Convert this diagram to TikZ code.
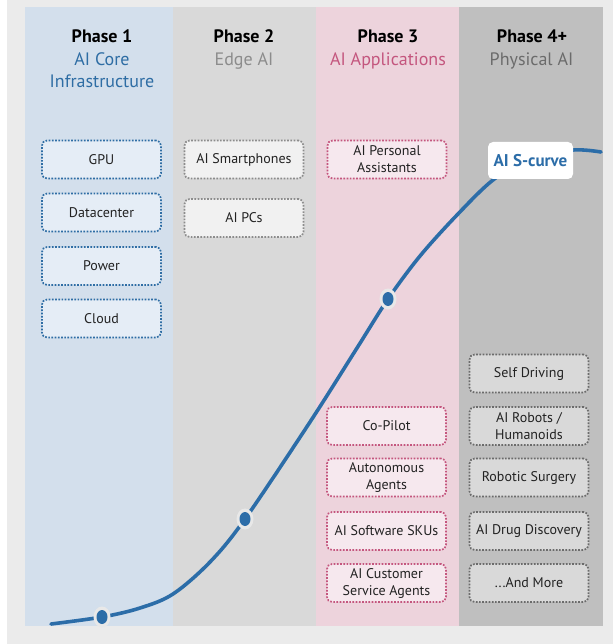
\documentclass[tikz,border=0pt]{standalone}
\usepackage{fontspec}
\setmainfont{PT Sans}
\definecolor{pagebg}{HTML}{EBEBEB}
\definecolor{curveblue}{HTML}{2C6DA8}
\definecolor{ringgray}{HTML}{E8E8E8}
\definecolor{colA}{HTML}{D3DFEC}
\definecolor{colB}{HTML}{D9D9D9}
\definecolor{colC}{HTML}{EDD3DC}
\definecolor{colD}{HTML}{BFBFBF}
\definecolor{fillA}{HTML}{E5EDF6}
\definecolor{fillB}{HTML}{F1F1F1}
\definecolor{fillC}{HTML}{F6E8EE}
\definecolor{fillD}{HTML}{D9D9D9}
\definecolor{lineA}{HTML}{2E6DA4}
\definecolor{lineB}{HTML}{8C8C8C}
\definecolor{lineC}{HTML}{C4567E}
\definecolor{lineD}{HTML}{6B6B6B}
\definecolor{boxtext}{HTML}{222222}
\begin{document}
\begin{tikzpicture}[x=1pt,y=-1pt,
  item/.style={draw, rounded corners=5pt, line width=1.7pt,
    dash pattern=on 1.7pt off 1.5pt, minimum width=119pt, minimum height=38pt,
    align=center, inner sep=0pt, text=boxtext,
    font=\fontsize{14}{17}\selectfont},
  itemA/.style={item, draw=lineA, fill=fillA},
  itemB/.style={item, draw=lineB, fill=fillB},
  itemC/.style={item, draw=lineC, fill=fillC},
  itemD/.style={item, draw=lineD, fill=fillD},
  phasetitle/.style={anchor=base, inner sep=0pt, text=black,
    font=\fontsize{18}{22}\selectfont\bfseries},
  phasesub/.style={anchor=base, inner sep=0pt, align=center,
    font=\fontsize{18}{22.5}\selectfont},
  curvelabel/.style={fill=white, rounded corners=5pt, minimum width=85pt,
    minimum height=37pt, inner sep=0pt, text=curveblue,
    font=\fontsize{17}{20}\selectfont\bfseries}
]
\useasboundingbox (0,0) rectangle (613,644);
\fill[white] (0,0) rectangle (613,644);
\fill[pagebg] (7,0) rectangle (613,644);

% phase columns
\fill[colA] (25,7) rectangle (173,626);
\fill[colB] (173,7) rectangle (316,626);
\fill[colC] (316,7) rectangle (459,626);
\fill[colD] (459,7) rectangle (603,626);

% column headers
\node[phasetitle] (t1) at (102,43) {Phase 1};
\node[phasesub, text=lineA, anchor=base] (s1) at (102,65.5) {AI Core};
\node[phasesub, text=lineA, anchor=base] (s1b) at (102,88) {Infrastructure};
\node[phasetitle] (t2) at (244,43) {Phase 2};
\node[phasesub, text=lineB] (s2) at (244,65.5) {Edge AI};
\node[phasetitle] (t3) at (388,43) {Phase 3};
\node[phasesub, text=lineC] (s3) at (388,65.5) {AI Applications};
\node[phasetitle] (t4) at (532,43) {Phase 4+};
\node[phasesub, text=lineD] (s4) at (531.5,65.5) {Physical AI};

% phase 1 items
\node[itemA] (gpu) at (101.5,159.5) {GPU};
\node[itemA] (dc) at (101.5,212.5) {Datacenter};
\node[itemA] (pw) at (101.5,266) {Power};
\node[itemA] (cl) at (101.5,318.5) {Cloud};

% phase 2 items
\node[itemB] (phones) at (244,159.5) {AI Smartphones};
\node[itemB] (pcs) at (244,218) {AI PCs};

% phase 3 items
\node[itemC] (pa) at (387,159.5) {AI Personal\\Assistants};
\node[itemC] (cop) at (386.5,426) {Co-Pilot};
\node[itemC] (aut) at (386.5,477.5) {Autonomous\\Agents};
\node[itemC] (sku) at (386.5,531) {AI Software SKUs};
\node[itemC] (cust) at (386.5,583) {AI Customer\\Service Agents};

% phase 4 items
\node[itemD] (drive) at (529,373.5) {Self Driving};
\node[itemD] (robots) at (529,426) {AI Robots /\\Humanoids};
\node[itemD] (surg) at (529,477.5) {Robotic Surgery};
\node[itemD] (drug) at (529,531) {AI Drug Discovery};
\node[itemD] (more) at (529,583) {...And More};

% adoption curve
\draw[curveblue, line width=3.6pt, line cap=round]
  plot[smooth, tension=0.55] coordinates {
    (51,624) (102,617) (140,608) (173,594) (210,562) (245,519)
    (310,422) (357,348) (388,299) (420,256) (457,215) (493,180)
    (530,158) (573,150) (601,152)};

% milestone markers on the curve
\foreach \px/\py in {102/617, 245/519, 388/299} {
  \fill[ringgray] (\px,\py) ellipse [x radius=8.5pt, y radius=10.5pt];
  \fill[curveblue] (\px,\py) ellipse [x radius=5.5pt, y radius=7pt];
}

\node[curvelabel] (scurve) at (530.5,160.5) {AI S-curve};
\end{tikzpicture}
\end{document}
